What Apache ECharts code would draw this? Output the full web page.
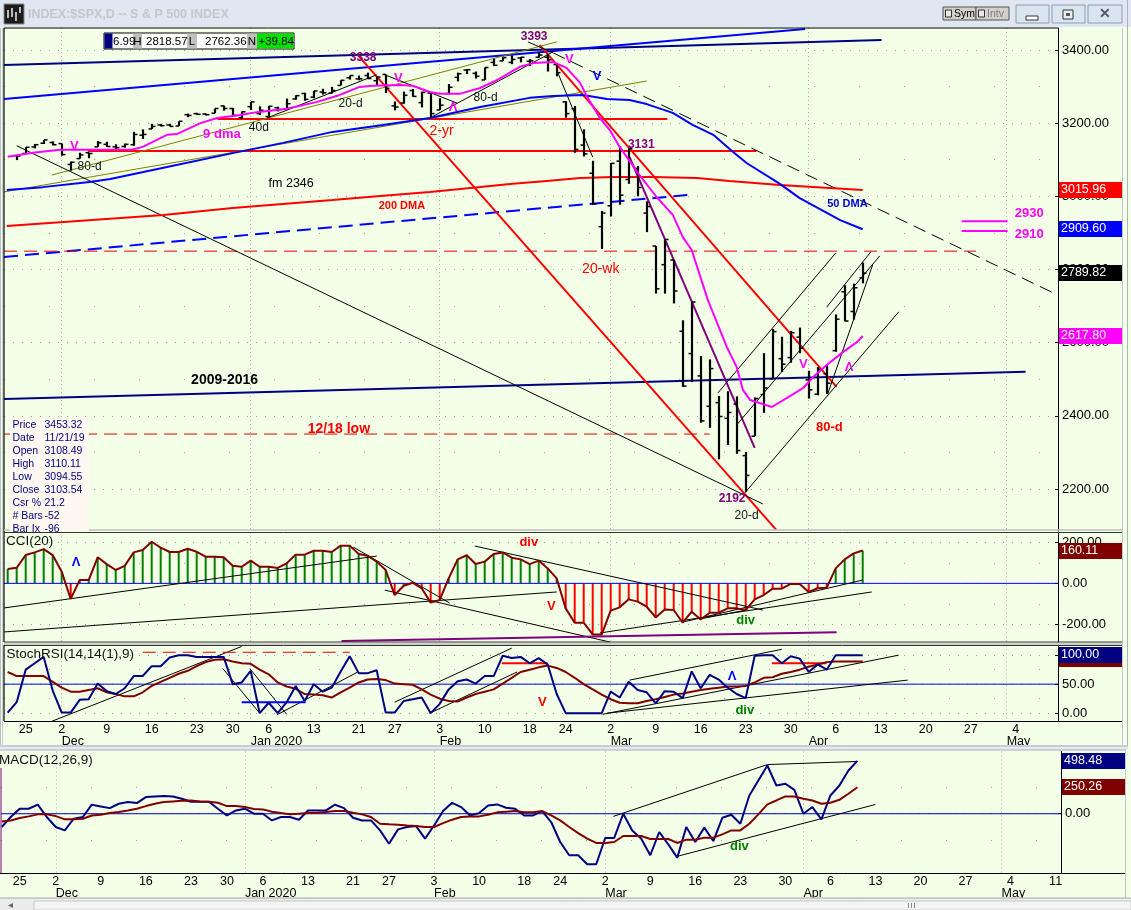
<!DOCTYPE html>
<html><head><meta charset="utf-8">
<style>html,body{margin:0;padding:0;background:#f3ffe7}#c{width:1131px;height:910px}</style>
<script src="https://cdn.jsdelivr.net/npm/echarts@6/dist/echarts.min.js"></script></head>
<body><div id="c"></div>
<script>
// ---- x positions are trading-day numbers counted from Dec 2, 2019 ----
const firstBar = -5;
const opens = [3111,3117,3135,3145,3147,3144,3087,3103,3119,3135,3142,3135,3136,3141,3167,3184,3195,3195,3192,3223,3226,3225,3227,3247,3240,3215,3245,3226,3218,3242,3239,3266,3281,3271,3285,3282,3303,3324,3321,3330,3316,3333,3247,3255,3289,3256,3282,3236,3281,3325,3345,3336,3318,3366,3370,3366,3378,3369,3380,3380,3360,3258,3239,3140,3063,2917,2974,3096,3046,3076,2954,2864,2813,2826,2631,2570,2509,2426,2436,2393,2432,2291,2344,2458,2501,2556,2559,2615,2498,2459,2515,2578,2739,2685,2777];
const highs = [3113,3134,3143,3154,3150,3144,3095,3119,3119,3151,3149,3142,3144,3176,3183,3198,3198,3198,3205,3226,3228,3226,3240,3248,3241,3232,3258,3246,3247,3245,3267,3276,3283,3288,3294,3299,3317,3330,3330,3338,3327,3333,3259,3286,3293,3286,3282,3268,3307,3338,3348,3341,3352,3376,3381,3385,3381,3375,3394,3389,3361,3260,3247,3183,3097,2960,3091,3137,3131,3083,2986,2864,2883,2826,2661,2711,2563,2554,2454,2467,2453,2301,2450,2571,2637,2616,2632,2641,2523,2533,2538,2677,2757,2761,2819];
const lows = [3099,3117,3131,3143,3139,3111,3070,3103,3104,3135,3135,3126,3133,3138,3157,3184,3191,3191,3192,3216,3222,3221,3227,3234,3217,3212,3236,3222,3215,3232,3237,3264,3261,3268,3278,3281,3303,3319,3317,3320,3302,3282,3235,3253,3272,3243,3215,3236,3281,3314,3334,3322,3318,3356,3370,3361,3366,3356,3379,3341,3328,3215,3119,3109,2977,2856,2945,2977,3034,3000,2902,2734,2734,2707,2479,2492,2381,2367,2281,2320,2296,2192,2344,2408,2501,2520,2545,2571,2447,2456,2460,2575,2658,2663,2762];
const closes = [3110,3134,3141,3154,3141,3114,3093,3113,3117,3146,3136,3133,3142,3169,3169,3191,3193,3191,3205,3221,3224,3223,3240,3240,3221,3231,3258,3235,3246,3237,3253,3275,3265,3288,3283,3289,3317,3330,3321,3322,3326,3295,3244,3276,3273,3284,3226,3249,3298,3335,3346,3328,3352,3358,3379,3374,3380,3370,3386,3373,3338,3226,3128,3116,2979,2954,3090,3003,3130,3024,2972,2747,2882,2741,2481,2711,2386,2529,2398,2409,2305,2237,2447,2476,2630,2541,2627,2585,2471,2527,2489,2664,2659,2750,2790];

const dma9 = [[-6,3108],[-3.2,3119],[-0.2,3127],[3.1,3127],[7.9,3128],[9,3135],[11.7,3168],[12.8,3170],[15.4,3200],[17.3,3214],[19.8,3222],[21.7,3230],[25,3239],[28.4,3258],[30.9,3277],[33.1,3299],[34.6,3302],[37.6,3304],[39,3302],[40.9,3285],[42,3280],[44.2,3280],[46.5,3296],[48.4,3318],[50.9,3354],[52.4,3364],[54.6,3367],[56.1,3351],[57.6,3310],[58.4,3271],[59.8,3214],[60.9,3181],[62,3135],[64.2,3058],[66.1,2998],[67.9,2949],[69,2889],[70,2853],[71.8,2716],[73.9,2588],[75,2533],[75.7,2470],[76.5,2443],[78.9,2424],[80.6,2449],[82.4,2476],[83.5,2506],[85,2539],[86.8,2574],[88.4,2602],[89,2618]];
const dma50 = [[-6.1,3017],[-2.1,3025],[3.1,3039],[5.4,3047],[11.7,3080],[19,3118],[24.6,3146],[30.1,3176],[35.7,3195],[40.9,3214],[46.5,3244],[52,3269],[54.6,3274],[57.9,3277],[60.6,3266],[63.1,3263],[65,3252],[67.9,3228],[70.1,3195],[72.4,3168],[74.6,3121],[76.1,3091],[79.8,3034],[82,2995],[86.5,2935],[89,2910]];
const dma200 = [[-6.1,2919],[11.3,2949],[19,2968],[30.1,2990],[35.4,3001],[40.9,3012],[45.7,3023],[50.1,3034],[53.9,3042],[57.6,3050],[61.3,3053],[65.7,3053],[70.6,3050],[74.2,3042],[79.8,3031],[89,3017]];

const indicatorStart = -6;
const cci = [70,76,138,151,167,138,57,-76,16,16,127,94,65,85,151,163,203,174,153,153,169,154,130,130,127,86,81,111,81,81,75,98,140,140,159,159,153,184,184,143,135,106,65,-57,-12,3,-24,-94,-81,24,117,137,94,106,143,151,125,117,94,111,73,24,-122,-192,-192,-249,-249,-133,-117,-78,-89,-114,-166,-127,-130,-192,-138,-176,-143,-143,-122,-122,-130,-78,-57,-26,-26,-3,-3,-42,-24,-21,73,117,146,160];
const stochK = [1,19,75,86,97,39,1,1,23,24,51,38,33,43,64,64,81,81,96,100,100,97,97,97,97,50,53,73,0,18,0,19,47,21,50,37,44,72,98,69,69,74,1,1,21,24,27,0,16,41,55,58,51,64,64,99,95,97,86,95,84,33,0,0,0,0,0,37,27,54,40,36,17,38,37,26,72,43,66,58,44,33,26,99,100,100,86,98,94,71,84,75,100,100,100,100];
const stochD = [71,64,64,64,64,54,44,37,37,40,43,36,33,29,29,36,47,54,61,68,73,81,88,92,93,89,86,85,75,67,53,46,42,33,32,31,27,36,44,53,58,59,57,51,50,49,41,32,25,21,20,27,33,37,41,51,61,71,75,79,82,78,71,61,50,41,32,24,18,17,17,21,24,28,32,34,37,40,42,44,46,46,47,53,61,62,68,71,75,80,84,88,89,89,89,89];
const macdLine = [-125,-31,47,47,85,-31,-125,-157,-47,-31,85,69,53,94,110,100,157,163,166,163,141,113,113,113,47,-16,31,47,0,0,-63,-31,-31,-56,31,31,31,85,53,-38,-63,-63,-157,-282,-147,-125,-116,-235,-110,25,103,63,-16,6,78,88,56,47,-16,-16,25,-78,-266,-391,-391,-476,-476,-228,-228,0,-157,-235,-391,-172,-288,-413,-125,-266,-131,-257,-38,-9,-94,172,313,454,266,282,225,0,63,-53,172,266,407,498];
const macdSignal = [-72,-63,-41,-25,-6,-6,-22,-53,-53,-47,-16,-9,6,16,31,47,72,94,110,116,122,125,116,113,103,72,72,63,44,41,19,6,-6,0,6,6,16,25,25,9,-6,-31,-94,-100,-103,-110,-116,-125,-125,-88,-56,-31,-25,-25,-9,13,19,25,13,13,25,-16,-63,-125,-182,-235,-275,-275,-266,-210,-210,-210,-238,-238,-238,-275,-244,-244,-225,-225,-194,-157,-157,-94,-6,88,125,163,163,141,125,94,103,131,188,250];

const weekTicks = [-4,0,5,10,15,19,23,28,33,37,42,47,52,56,61,66,71,76,81,86,91,96,101,106,111];
const weekLabels = ['25','2','9','16','23','30','6','13','21','27','3','10','18','24','2','9','16','23','30','6','13','20','27','4','11'];
const monthTicks = [0,21,42,61,83,105];
const monthLabels = ['Dec','Jan 2020','Feb','Mar','Apr','May'];

const trends = {
  navyThick: [[-6.4,3359,91.1,3427],[-6.4,2446,107.1,2520]],
  blueThick: [[-6.4,3266,82.6,3457]],
  blueDash: [[-6.4,2834,69.8,3004]],
  redThick: [[17.3,3211,67.3,3211],[2.9,3124,77.2,3124],[32.9,3386,79.4,2088],[53.1,3414,86.1,2479]],
  redDash: [[-6.4,2850,101.6,2850],[-6.4,2350,72,2350]],
  purple: [[63.1,3107,77,2312]],
  olive: [[-1.1,3058,55,3422],[-6.4,3012,65,3315]],
  black: [[-5,3138,77.9,2159],[22.8,3214,35,3332],[35.9,3332,43.9,3255],[40.9,3214,54.6,3395],[51.8,3422,54.6,3392],[55,3345,59,3107],[72.9,2462,86,2845],[75,2375,90.9,2837],[75.9,2189,93,2684],[85,2697,89.9,2848],[85.1,2459,90.1,2812]],
  blackDash: [[54.6,3392,110,2738]],
  magenta: [[100,2932,105.1,2932],[100,2905,105.1,2905]]
};
const cciTrends = {
  black: [[-6.4,-120,35,133],[-6.4,-237,55,-42],[35.9,-33,60.9,-286],[32.4,177,43.1,-96],[45.9,182,77.9,-130],[59.8,-242,90,-42],[69,-189,89,16],[70.9,-174,76.1,-130]],
  purple: [[31.1,-281,86.1,-238]]
};
const stochTrends = {
  black: [[-1.1,-14,20,115],[17.9,77,22,0],[20.9,77,25,-2],[23.9,-3,32.9,71],[37,19,50,112],[40.9,0,50.6,71],[63.1,57,80,110],[60.1,-2,93,100],[60.6,0,94,57]],
  redDash: [[9,105,32,105]],
  redThick: [[48.9,86,54,86],[78.9,86,85,86]],
  blueThick: [[20,19,27.1,19]]
};
const macdTrends = { black: [[61.9,-25,79,463],[79,463,89,492],[69,-401,91,87]] };

const mainNotes = [[33.5,3378,'3338','pur'],[52.5,3436,'3393','pur'],[64.4,3140,'3131','pur'],[74.5,2172,'2192','pur'],[76.1,2126,'20-d','blk'],[32.1,3252,'20-d','blk'],[21.9,3187,'40d','blk'],[3.1,3080,'80-d','blk'],[47.1,3269,'80-d','blk'],[17.8,3170,'9 dma','magB'],[25.5,3034,'fm 2346','blk13'],[37.8,2973,'200 DMA','redS'],[42.2,3179,'2-yr','redL'],[59.9,2801,'20-wk','redL'],[30.8,2364,'12/18 low','redB'],[18.1,2498,'2009-2016','blkB'],[87.3,2979,'50 DMA','bluS'],[85.3,2367,'80-d','redB13'],[107.5,2954,'2930','magB'],[107.5,2897,'2910','magB'],[1.4,3135,'V','magB'],[37.4,3323,'V','magB'],[56.4,3373,'V','magB'],[43.5,3244,'Λ','magB'],[59.5,3329,'V','bluB'],[82.4,2539,'V','magB'],[87.5,2533,'Λ','magB']];
const cciNotes = [[1.6,104,'Λ','bluB'],[51.9,201,'div','redB13'],[54.4,-111,'V','redB13'],[76,-179,'div','grnB']];
const stochNotes = [[53.4,19,'V','redB13'],[74.5,64,'Λ','bluB'],[75.9,5,'div','grnB']];
const macdNotes = [[75.9,-307,'div','grnB']];

const mainFlags = [[3015.96,'red'],[2909.60,'blue'],[2789.82,'black'],[2617.80,'magenta']];
const cciFlags = [[160.11,'darkred']];
const stochFlags = [[93,'darkred','94.08'],[101,'navy','100.00']];
const macdFlags = [[498.48,'navy'],[250.26,'darkred']];
const infoLabels = ['Price','Date','Open','High','Low','Close','Csr %','# Bars','Bar Ix'];
const infoValues = ['3453.32','11/21/19','3108.49','3110.11','3094.55','3103.54','21.2','-52','-96'];

// ---- styling ----
const F = '"Liberation Sans", Arial, sans-serif';
const C = {navy:'#000080',blue:'#0000ff',red:'#ff0000',mag:'#ff00ff',pur:'#800080',olive:'#808000',dred:'#800000',green:'#008000',bg:'#f3ffe7'};
const flagColors = {red:'#ff0000',blue:'#0000ff',black:'#000000',magenta:'#ff00ff',darkred:'#800000',navy:'#000080'};
const noteStyles = {
  pur:{fill:C.pur,font:`bold 12px ${F}`}, blk:{fill:'#111',font:`12px ${F}`}, blk13:{fill:'#000',font:`12.5px ${F}`},
  blkB:{fill:'#000',font:`bold 14px ${F}`}, magB:{fill:C.mag,font:`bold 13px ${F}`}, redS:{fill:C.red,font:`bold 11px ${F}`},
  redL:{fill:C.red,font:`14px ${F}`}, redB:{fill:C.red,font:`bold 14px ${F}`}, redB13:{fill:C.red,font:`bold 13px ${F}`},
  bluS:{fill:'#0000c8',font:`bold 11px ${F}`}, bluB:{fill:'#0000ff',font:`bold 13px ${F}`}, grnB:{fill:C.green,font:`bold 13px ${F}`}
};
const trendStyles = {
  navyThick:{color:C.navy,width:2}, blueThick:{color:C.blue,width:2}, blueDash:{color:C.blue,width:2,type:[14,7]},
  redThick:{color:C.red,width:2}, redDash:{color:'#e00000',width:1,type:[13,7]}, purple:{color:C.pur,width:2},
  olive:{color:C.olive,width:1}, black:{color:'#000',width:1}, blackDash:{color:'#000',width:1,type:[13,7]}, magenta:{color:C.mag,width:2}
};

// ---- panes (x index is mapped so that bars are 9px apart) ----
const panes = [
  {top:28, bottom:531, left:4, right:1058, xMin:-6.41, xMax:110.7, yMin:2085, yMax:3460, major:[3400,3200,3000,2800,2600,2400,2200], minor:[3300,3100,2900,2700,2500,2300], labels:[3400,3200,3000,2800,2600,2400,2200]},
  {top:532.3, bottom:642, left:4, right:1058, xMin:-6.41, xMax:110.7, yMin:-286, yMax:249, major:[200,0,-200], minor:[100,-100], labels:[200,0,-200]},
  {top:645.3, bottom:721.3, left:4, right:1058, xMin:-6.41, xMax:110.7, yMin:-14, yMax:117, major:[100,50,0], minor:[75,25], labels:[100,50,0], dated:true},
  {top:751.5, bottom:873, left:1, right:1061, xMin:-6.08, xMax:111.6, yMin:-558, yMax:586, major:[500,0,-500], minor:[250,-250], labels:[0], dated:true}
];
const grid = [], xAxis = [], yAxis = [], series = [];
const xRef = [], yRef = [];
const axisFont = {color:'#000',fontFamily:F,fontSize:12.5};
panes.forEach((p,g)=>{
  grid.push({left:p.left,top:p.top,width:p.right-p.left,height:p.bottom-p.top,containLabel:false,backgroundColor:'transparent',show:false});
  xRef[g] = xAxis.length;
  xAxis.push({type:'value',gridIndex:g,min:p.xMin,max:p.xMax,position:'bottom',
    axisLine:{show:false},axisTick:{show:false,customValues:monthTicks},
    splitLine:{show:true,lineStyle:{color:'#a8aca8',width:1,type:[1,3]}},
    axisLabel:{show:!!p.dated,customValues:monthTicks,margin:14,align:'left',...axisFont,lineHeight:13,
      formatter:v=>monthLabels[monthTicks.indexOf(v)]||''}});
  if(p.dated){
    const wk = weekTicks.filter(v=>v>p.xMin&&v<p.xMax);
    xAxis.push({type:'value',gridIndex:g,min:p.xMin,max:p.xMax,position:'bottom',
      axisLine:{show:false},axisTick:{show:false,customValues:wk},splitLine:{show:false},
      axisLabel:{show:true,customValues:wk,margin:2,...axisFont,lineHeight:13,
        formatter:v=>weekLabels[weekTicks.indexOf(v)]||''}});
  }
  yRef[g] = yAxis.length;
  yAxis.push({type:'value',gridIndex:g,min:p.yMin,max:p.yMax,position:'right',
    axisLine:{show:true,onZero:false,lineStyle:{color:'#000',width:1}},
    axisTick:{show:true,inside:true,length:3,customValues:p.labels,lineStyle:{color:'#000'}},
    splitLine:{show:true,lineStyle:{color:'#9aa09a',width:1,type:[1,8]}},
    axisLabel:{show:true,inside:false,customValues:p.labels,margin:4,...axisFont,fontSize:13,formatter:v=>v.toFixed(2)}});
  yAxis.push({type:'value',gridIndex:g,min:p.yMin,max:p.yMax,position:'right',
    axisLine:{show:false},axisTick:{show:false,customValues:p.minor},axisLabel:{show:false},
    splitLine:{show:true,lineStyle:{color:'#9aa09a',width:1,type:[1,44]}}});
});

function lineS(g,data,color,width,z,type){
  series.push({type:'line',xAxisIndex:xRef[g],yAxisIndex:yRef[g],data,showSymbol:false,symbol:'none',silent:true,animation:false,z:z||5,
    clip:true,lineStyle:{color,width,type:type||'solid',cap:'butt'}});
}
function trendS(g,tbl){
  Object.keys(tbl).forEach(k=>{
    const s=trendStyles[k];
    tbl[k].forEach(t=>lineS(g,[[t[0],t[1]],[t[2],t[3]]],s.color,s.width,4,s.type));
  });
}
function noteS(g,notes){
  series.push({type:'custom',xAxisIndex:xRef[g],yAxisIndex:yRef[g],animation:false,silent:true,z:12,clip:false,
    data:notes.map(n=>[n[0],n[1]]),encode:{x:0,y:1},
    renderItem:(params,api)=>{
      const c=api.coord([api.value(0),api.value(1)]),n=notes[params.dataIndex],st=noteStyles[n[3]];
      return {type:'text',x:c[0],y:c[1],style:{text:n[2],fill:st.fill,font:st.font,align:'center',verticalAlign:'middle'}};
    }});
}
function flagS(g,flags){
  const xEnd=panes[g].xMax;
  series.push({type:'custom',xAxisIndex:xRef[g],yAxisIndex:yRef[g],animation:false,silent:true,z:20,clip:false,
    data:flags.map(f=>[xEnd,f[0]]),encode:{x:0,y:1},
    renderItem:(params,api)=>{
      const c=api.coord([api.value(0),api.value(1)]),f=flags[params.dataIndex];
      const txt=f[2]||f[0].toFixed(2);
      return {type:'group',children:[
        {type:'rect',shape:{x:c[0]+1,y:Math.round(c[1])-8,width:63,height:16},style:{fill:flagColors[f[1]]}},
        {type:'text',x:c[0]+3,y:Math.round(c[1]),style:{text:txt,fill:'#fff',font:`12.5px ${F}`,align:'left',verticalAlign:'middle'}}
      ]};
    }});
}
const seq = arr => arr.map((v,i)=>[indicatorStart+i,v]);

// main pane
trendS(0,trends);
lineS(0,dma200,C.red,2,5);
lineS(0,dma50,C.blue,2,5);
const ohlc = opens.map((o,i)=>[firstBar+i,o,highs[i],lows[i],closes[i]]);
series.push({type:'custom',xAxisIndex:xRef[0],yAxisIndex:yRef[0],animation:false,silent:true,z:6,data:ohlc,encode:{x:0,y:[1,2,3,4]},
  renderItem:(params,api)=>{
    const i=api.value(0),x=Math.round(api.coord([i,0])[0]);
    const yO=api.coord([i,api.value(1)])[1],yH=api.coord([i,api.value(2)])[1],yL=api.coord([i,api.value(3)])[1],yC=api.coord([i,api.value(4)])[1];
    const st={stroke:'#000',lineWidth:2.2};
    return {type:'group',children:[
      {type:'line',shape:{x1:x,y1:yH,x2:x,y2:yL},style:st},
      {type:'line',shape:{x1:x-3.5,y1:yO,x2:x,y2:yO},style:{stroke:'#000',lineWidth:1.5}},
      {type:'line',shape:{x1:x,y1:yC,x2:x+3.5,y2:yC},style:{stroke:'#000',lineWidth:1.5}}
    ]};
  }});
lineS(0,dma9,C.mag,2,7);
noteS(0,mainNotes); flagS(0,mainFlags);

// CCI pane
series.push({type:'bar',xAxisIndex:xRef[1],yAxisIndex:yRef[1],animation:false,silent:true,barWidth:2,z:3,
  data:seq(cci),itemStyle:{color:p=>p.value[1]>=0?C.green:C.red}});
lineS(1,[[panes[1].xMin,0],[panes[1].xMax,0]],'#0000e0',1,4);
trendS(1,cciTrends);
lineS(1,seq(cci),C.dred,2,6);
noteS(1,cciNotes); flagS(1,cciFlags);

// StochRSI pane
lineS(2,[[panes[2].xMin,50],[panes[2].xMax,50]],'#0000e0',1,3);
trendS(2,stochTrends);
lineS(2,seq(stochD),C.dred,2,5);
lineS(2,seq(stochK),C.navy,2,6);
noteS(2,stochNotes); flagS(2,stochFlags);

// MACD pane
lineS(3,[[panes[3].xMin,0],[panes[3].xMax,0]],'#0000c0',1,3);
trendS(3,macdTrends);
lineS(3,seq(macdLine),C.navy,2,5);
lineS(3,seq(macdSignal),C.dred,2,6);
noteS(3,macdNotes); flagS(3,macdFlags);

// ---- window furniture ----
const G=[];
const rect=(x,y,w,h,fill,stroke)=>G.push({type:'rect',shape:{x,y,width:w,height:h},style:{fill:fill||'none',stroke:stroke||null,lineWidth:1},z:100,silent:true});
const ln=(x1,y1,x2,y2,c,w)=>G.push({type:'line',shape:{x1,y1,x2,y2},style:{stroke:c,lineWidth:w||1},z:100,silent:true});
const tx=(x,y,t,fill,font,align)=>G.push({type:'text',x,y,style:{text:t,fill,font,align:align||'left',verticalAlign:'middle'},z:101,silent:true});

// title bar
rect(0,0,1131,27,'#dfe8f2');
rect(4,4,20,20,'#1c1c1c','#888');
[[8,10,8],[12,8,9],[16,12,9],[20,7,6]].forEach(b=>ln(b[0],b[1],b[0],b[1]+b[2],'#f0f0f0',1.5));
tx(28,14.5,'INDEX:$SPX,D -- S & P 500 INDEX','#c4c6c8',`bold 12.5px ${F}`);
rect(943,7,33,13,'#d4d0c8','#555'); rect(976,7,33,13,'#d4d0c8','#555');
rect(945.5,10,6,7,'#e8e8e8','#333'); rect(978.5,10,6,7,'#e8e8e8','#333');
tx(954,14,'Sym','#000',`10.5px ${F}`); tx(987,14,'Intv','#808080',`10.5px ${F}`);
[[1016,33],[1052,33],[1088,34]].forEach(b=>rect(b[0],5,b[1],18,'#dbe5ef','#8c9cb0'));
rect(1026,16,12,4,'#fff','#333'); rect(1063,10,10,9,'#e8eef5','#333'); rect(1066,13,4,3,'#555');
tx(1105,14,'✕','#556',`bold 14px ${F}`,'center');
// frame and separators
ln(0.5,28,0.5,745,'#b8c0c8');
ln(4,28,1058,28,'#000'); ln(2.5,28,2.5,745,'#c8ccd0',1); ln(4,28,4,642,'#000',1.2);
ln(4,530,1122,530,'#c0c0c0',1.5); ln(4,532.5,1122,532.5,'#333',1);
ln(4,642,1122,642,'#333',1); ln(4,644,1122,644,'#c0c0c0',1.5); ln(4,645.5,1122,645.5,'#333',1); ln(4,645,4,721,'#000',1.2);
ln(4,721.5,1122,721.5,'#000',1);
ln(1122.5,28,1122.5,745,'#c0c8d0',1); ln(1127.5,0,1127.5,746,'#aab4c0',1);
rect(0,745,1128,5,'#e4eaf0'); ln(0,746,1128,746,'#a8b0b8',1); ln(0,750,1126,750,'#a8b0b8',1);
ln(0,873.5,1125,873.5,'#000',1); ln(1,768,1,873,C.pur,1);
ln(1125.5,750,1125.5,898,'#c0c8d0',1);
rect(0,898,1131,12,'#ececec'); ln(0,898,1131,898,'#a8a8a8',1);
rect(34,901,1097,9,'#f4f4f4','#c8c8c8');
[908,911,914].forEach(x=>ln(x+.5,903,x+.5,908,'#888',1));
tx(8,905,'◂','#666',`10px ${F}`);
// header read-out
rect(104,33,190,16,'#fff','#000'); rect(104.5,33.5,8,15,C.navy);
rect(133,33.5,9,15,'#c0c0c0'); rect(187,33.5,10,15,'#c0c0c0'); rect(247,33.5,10,15,'#c0c0c0'); rect(257,33.5,36.5,15,'#00e000');
const hf=`11.5px ${F}`;
tx(113,41.5,'6.99','#000',hf); tx(137.5,41.5,'H','#000',hf,'center');
tx(146,41.5,'2818.57','#000',hf); tx(192,41.5,'L','#000',hf,'center');
tx(205,41.5,'2762.36','#000',hf); tx(252,41.5,'N','#000',hf,'center');
tx(258.5,41.5,'+39.84','#000',hf);
// info box
rect(10,418,79,113.5,'#fdf8f0');
infoLabels.forEach((t,i)=>{
  tx(12.5,424.7+13*i,t,C.navy,`10.5px ${F}`);
  tx(44.5,424.7+13*i,infoValues[i],C.navy,`10.5px ${F}`);
});
// pane captions
tx(6,541.5,'CCI(20)','#111',`13.5px ${F}`);
tx(6.5,654,'StochRSI(14,14(1),9)','#111',`13.5px ${F}`);
tx(-1,760.5,'MACD(12,26,9)','#111',`13.5px ${F}`);

const chart = echarts.init(document.getElementById('c'),null,{renderer:'canvas',width:1131,height:910});
chart.setOption({animation:false,backgroundColor:C.bg,grid,xAxis,yAxis,series,graphic:{elements:G},tooltip:{show:false},legend:{show:false}});
</script></body></html>
